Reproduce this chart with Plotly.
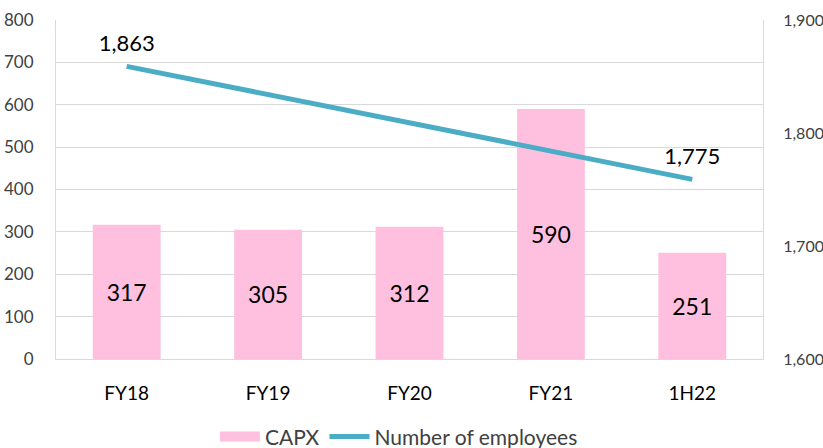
import plotly.graph_objects as go

categories = ["FY18", "FY19", "FY20", "FY21", "1H22"]
capx = [317, 305, 312, 590, 251]
employees = [1859, 1834, 1809, 1784, 1759]
employee_labels = ["1,863", "", "", "", "1,775"]

left_ticks = [0, 100, 200, 300, 400, 500, 600, 700, 800]
right_ticks = [1600, 1700, 1800, 1900]
right_tick_text = ["1,600", "1,700", "1,800", "1,900"]

FONT = "Lato"
GRID = "#D9D9D9"
PINK = "#FFC0E0"
TEAL = "#4BACC6"

fig = go.Figure()
fig.add_trace(go.Bar(
    x=categories, y=capx, name="CAPX", showlegend=False,
    marker=dict(color=PINK, line=dict(width=0)),
    text=[str(v) for v in capx], textposition="inside", insidetextanchor="middle",
    textfont=dict(family=FONT, size=23, color="#000000"),
    yaxis="y",
))
# legend entry for the bars, drawn as a wide pink block like the original
fig.add_trace(go.Scatter(
    x=[categories[0]], y=[None], name="CAPX", mode="lines",
    line=dict(color=PINK, width=11), yaxis="y", hoverinfo="skip",
))
fig.add_trace(go.Scatter(
    x=categories, y=employees, name="Number of employees",
    mode="lines+markers+text", line=dict(color=TEAL, width=5),
    marker=dict(size=14, color="rgba(0,0,0,0)", line=dict(width=0)),
    text=employee_labels, textposition="top center",
    textfont=dict(family=FONT, size=22, color="#000000"),
    yaxis="y2",
))

fig.update_layout(
    width=823, height=448,
    margin=dict(l=56, r=60, t=20, b=89, autoexpand=False),
    paper_bgcolor="white", plot_bgcolor="white",
    font=dict(family=FONT, color="#404040"),
    bargap=0.52,
    showlegend=True,
    legend=dict(orientation="h", x=0.485, xanchor="center", y=-0.23, yanchor="middle",
                font=dict(family=FONT, size=21, color="#404040"),
                itemwidth=40, tracegroupgap=0, itemclick=False),
    xaxis=dict(showgrid=False, showline=True, linecolor=GRID, linewidth=1, automargin=False,
               ticks="", tickfont=dict(family=FONT, size=19, color="#000000"),
               ticklabelstandoff=17),
    yaxis=dict(range=[0, 800], tickvals=left_ticks, showgrid=True, gridcolor=GRID, gridwidth=1,
               showline=True, linecolor=GRID, linewidth=1, zeroline=False, automargin=False,
               ticks="", tickfont=dict(family=FONT, size=17, color="#404040"),
               ticklabelstandoff=18),
    yaxis2=dict(range=[1600, 1900], tickvals=right_ticks, ticktext=right_tick_text,
                overlaying="y", side="right", showgrid=False, automargin=False,
                showline=True, linecolor=GRID, linewidth=1, zeroline=False,
                ticks="", tickfont=dict(family=FONT, size=16, color="#404040"),
                ticklabelstandoff=16),
)

fig.write_html("out.html", config={"displayModeBar": False},
               post_script="document.body.style.margin='0';document.body.style.padding='0';")
